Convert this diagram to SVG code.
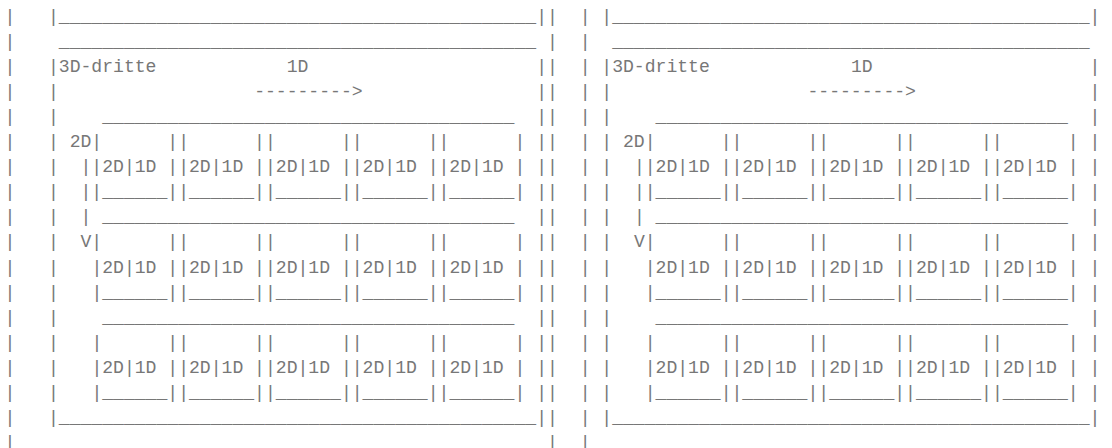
<svg xmlns="http://www.w3.org/2000/svg" width="1112" height="448" viewBox="0 0 1112 448">
<style>
text{font-family:"Liberation Mono","Courier New",monospace;font-size:18.08px;fill:#777;white-space:pre}
</style>
<rect width="1112" height="448" fill="#fff"/>
<g id="left-block">
<text y="21.5"><tspan x="4.58">|</tspan><tspan x="47.98">|____________________________________________||</tspan></text>
<text y="46.6"><tspan x="4.58">|</tspan><tspan x="58.83">____________________________________________</tspan><tspan x="547.08">|</tspan></text>
<text y="71.7"><tspan x="4.58">|</tspan><tspan x="47.98">|3D-dritte</tspan><tspan x="286.68">1D</tspan><tspan x="536.23">||</tspan></text>
<text y="96.8"><tspan x="4.58">|</tspan><tspan x="47.98">|</tspan><tspan x="254.13">---------&gt;</tspan><tspan x="536.23">||</tspan></text>
<text y="121.9"><tspan x="4.58">|</tspan><tspan x="47.98">|</tspan><tspan x="102.23">______________________________________</tspan><tspan x="536.23">||</tspan></text>
<text y="147.0"><tspan x="4.58">|</tspan><tspan x="47.98">|</tspan><tspan x="69.68">2D|      ||      ||      ||      ||      |</tspan><tspan x="536.23">||</tspan></text>
<text y="172.1"><tspan x="4.58">|</tspan><tspan x="47.98">|</tspan><tspan x="80.53">||2D|1D ||2D|1D ||2D|1D ||2D|1D ||2D|1D |</tspan><tspan x="536.23">||</tspan></text>
<text y="197.2"><tspan x="4.58">|</tspan><tspan x="47.98">|</tspan><tspan x="80.53">||______||______||______||______||______|</tspan><tspan x="536.23">||</tspan></text>
<text y="222.3"><tspan x="4.58">|</tspan><tspan x="47.98">|</tspan><tspan x="80.53">|</tspan><tspan x="102.23">______________________________________</tspan><tspan x="536.23">||</tspan></text>
<text y="247.4"><tspan x="4.58">|</tspan><tspan x="47.98">|</tspan><tspan x="80.53">V|      ||      ||      ||      ||      |</tspan><tspan x="536.23">||</tspan></text>
<text y="272.5"><tspan x="4.58">|</tspan><tspan x="47.98">|</tspan><tspan x="91.38">|2D|1D ||2D|1D ||2D|1D ||2D|1D ||2D|1D |</tspan><tspan x="536.23">||</tspan></text>
<text y="297.6"><tspan x="4.58">|</tspan><tspan x="47.98">|</tspan><tspan x="91.38">|______||______||______||______||______|</tspan><tspan x="536.23">||</tspan></text>
<text y="322.7"><tspan x="4.58">|</tspan><tspan x="47.98">|</tspan><tspan x="102.23">______________________________________</tspan><tspan x="536.23">||</tspan></text>
<text y="347.8"><tspan x="4.58">|</tspan><tspan x="47.98">|</tspan><tspan x="91.38">|      ||      ||      ||      ||      |</tspan><tspan x="536.23">||</tspan></text>
<text y="372.9"><tspan x="4.58">|</tspan><tspan x="47.98">|</tspan><tspan x="91.38">|2D|1D ||2D|1D ||2D|1D ||2D|1D ||2D|1D |</tspan><tspan x="536.23">||</tspan></text>
<text y="398.0"><tspan x="4.58">|</tspan><tspan x="47.98">|</tspan><tspan x="91.38">|______||______||______||______||______|</tspan><tspan x="536.23">||</tspan></text>
<text y="423.1"><tspan x="4.58">|</tspan><tspan x="47.98">|____________________________________________||</tspan></text>
<text y="448.2"><tspan x="4.58">|</tspan><tspan x="547.08">|</tspan></text>
</g>
<g id="right-block">
<text y="21.5"><tspan x="579.63">|</tspan><tspan x="601.33">|____________________________________________|</tspan></text>
<text y="46.6"><tspan x="579.63">|</tspan><tspan x="612.18">____________________________________________</tspan></text>
<text y="71.7"><tspan x="579.63">|</tspan><tspan x="601.33">|3D-dritte</tspan><tspan x="850.88">1D</tspan><tspan x="1089.58">|</tspan></text>
<text y="96.8"><tspan x="579.63">|</tspan><tspan x="601.33">|</tspan><tspan x="807.48">---------&gt;</tspan><tspan x="1089.58">|</tspan></text>
<text y="121.9"><tspan x="579.63">|</tspan><tspan x="601.33">|</tspan><tspan x="655.58">______________________________________</tspan><tspan x="1089.58">|</tspan></text>
<text y="147.0"><tspan x="579.63">|</tspan><tspan x="601.33">|</tspan><tspan x="623.03">2D|      ||      ||      ||      ||      |</tspan><tspan x="1089.58">|</tspan></text>
<text y="172.1"><tspan x="579.63">|</tspan><tspan x="601.33">|</tspan><tspan x="633.88">||2D|1D ||2D|1D ||2D|1D ||2D|1D ||2D|1D |</tspan><tspan x="1089.58">|</tspan></text>
<text y="197.2"><tspan x="579.63">|</tspan><tspan x="601.33">|</tspan><tspan x="633.88">||______||______||______||______||______|</tspan><tspan x="1089.58">|</tspan></text>
<text y="222.3"><tspan x="579.63">|</tspan><tspan x="601.33">|</tspan><tspan x="633.88">|</tspan><tspan x="655.58">______________________________________</tspan><tspan x="1089.58">|</tspan></text>
<text y="247.4"><tspan x="579.63">|</tspan><tspan x="601.33">|</tspan><tspan x="633.88">V|      ||      ||      ||      ||      |</tspan><tspan x="1089.58">|</tspan></text>
<text y="272.5"><tspan x="579.63">|</tspan><tspan x="601.33">|</tspan><tspan x="644.73">|2D|1D ||2D|1D ||2D|1D ||2D|1D ||2D|1D |</tspan><tspan x="1089.58">|</tspan></text>
<text y="297.6"><tspan x="579.63">|</tspan><tspan x="601.33">|</tspan><tspan x="644.73">|______||______||______||______||______|</tspan><tspan x="1089.58">|</tspan></text>
<text y="322.7"><tspan x="579.63">|</tspan><tspan x="601.33">|</tspan><tspan x="655.58">______________________________________</tspan><tspan x="1089.58">|</tspan></text>
<text y="347.8"><tspan x="579.63">|</tspan><tspan x="601.33">|</tspan><tspan x="644.73">|      ||      ||      ||      ||      |</tspan><tspan x="1089.58">|</tspan></text>
<text y="372.9"><tspan x="579.63">|</tspan><tspan x="601.33">|</tspan><tspan x="644.73">|2D|1D ||2D|1D ||2D|1D ||2D|1D ||2D|1D |</tspan><tspan x="1089.58">|</tspan></text>
<text y="398.0"><tspan x="579.63">|</tspan><tspan x="601.33">|</tspan><tspan x="644.73">|______||______||______||______||______|</tspan><tspan x="1089.58">|</tspan></text>
<text y="423.1"><tspan x="579.63">|</tspan><tspan x="601.33">|____________________________________________|</tspan></text>
<text y="448.2"><tspan x="579.63">|</tspan></text>
</g>
</svg>
